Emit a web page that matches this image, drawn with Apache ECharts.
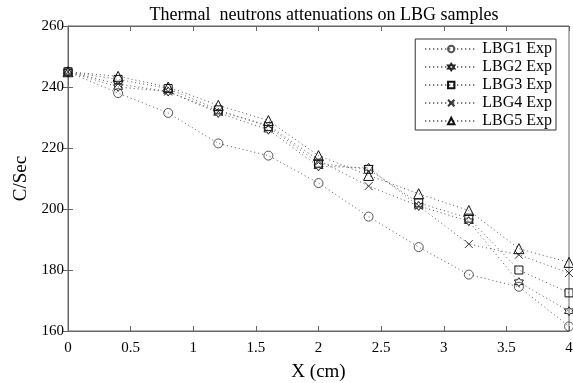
<!DOCTYPE html>
<html><head><meta charset="utf-8">
<script src="https://cdn.jsdelivr.net/npm/echarts@6/dist/echarts.min.js"></script>
<style>html,body{margin:0;padding:0;background:#fff}#c{width:573px;height:383px}</style>
</head><body><div id="c"></div>
<script>
var xValues = [0, 0.4, 0.8, 1.2, 1.6, 2.0, 2.4, 2.8, 3.2, 3.6, 4.0];
var lbg1 = [245, 238, 231.5, 221.5, 217.5, 208.5, 197.5, 187.5, 178.5, 174.5, 161.5];
var lbg2 = [245, 240, 238.5, 231.5, 226, 214, 213.5, 201, 196, 176, 166.5];
var lbg3 = [245, 242.5, 239.5, 232.5, 227, 215, 213, 202, 197, 180, 172.5];
var lbg4 = [245, 241, 238.5, 232, 227.5, 216, 207.5, 201, 188.5, 185, 179];
var lbg5 = [245, 243.5, 240, 234, 229, 217.5, 211, 205, 199.5, 187, 182.5];
var seriesNames = ['LBG1 Exp', 'LBG2 Exp', 'LBG3 Exp', 'LBG4 Exp', 'LBG5 Exp'];
var xTicks = [0, 0.5, 1, 1.5, 2, 2.5, 3, 3.5, 4];
var yTicks = [160, 180, 200, 220, 240, 260];

var font = 'Liberation Serif';
var hexagram = 'path://M5,0L6.4,2.5L9.3,2.5L7.9,5L9.3,7.5L6.4,7.5L5,10L3.6,7.5L0.7,7.5L2.1,5L0.7,2.5L3.6,2.5Z';
var xmark = 'path://M0,0L10,10M10,0L0,10';
var symbols = ['circle', hexagram, 'rect', xmark, 'triangle'];
var sizes = [9, 9, 8, 8, 10];
var markerColors = ['#555', '#222', '#111', '#333', '#111'];
var allData = [lbg1, lbg2, lbg3, lbg4, lbg5];

function pairs(arr){ return xValues.map(function(x,i){ return [x, arr[i]]; }); }

var series = allData.map(function(d, k){
  return {
    name: seriesNames[k], type: 'line', data: pairs(d),
    symbol: symbols[k], symbolSize: sizes[k], showAllSymbol: true,
    lineStyle: {type: [1, 3], width: 1, color: '#555'},
    itemStyle: {color: 'rgba(255,255,255,0)', borderColor: markerColors[k], borderWidth: 1},
    emphasis: {disabled: true}, animation: false, z: 3
  };
});

var chart = echarts.init(document.getElementById('c'));
chart.setOption({
  animation: false,
  title: {text: 'Thermal  neutrons attenuations on LBG samples', left: 319, top: 1, textAlign: 'center',
    textStyle: {fontFamily: font, fontSize: 18, fontWeight: 'normal', color: '#000'}},
  grid: {left: 68, right: 4, top: 26, bottom: 52, show: true, borderColor: '#666', borderWidth: 1,
    containLabel: false, outerBoundsMode: 'none'},
  legend: {
    data: seriesNames, orient: 'vertical', right: 17, top: 39,
    backgroundColor: '#fff', borderColor: '#333', borderWidth: 1,
    padding: [2, 4, 1, 9], itemGap: 2, itemWidth: 52, itemHeight: 8,
    textStyle: {fontFamily: font, fontSize: 16, color: '#000', lineHeight: 14, height: 14}
  },
  xAxis: [{
    type: 'value', min: 0, max: 4, interval: 0.5,
    name: 'X (cm)', nameLocation: 'middle', nameGap: 32,
    nameTextStyle: {fontFamily: font, fontSize: 19, color: '#000'},
    axisLine: {lineStyle: {color: '#666'}},
    axisTick: {inside: true, length: 5, lineStyle: {color: '#666'}},
    axisLabel: {fontFamily: font, fontSize: 15, color: '#000', margin: 10,
      formatter: function(v){ return String(v); }},
    splitLine: {show: false}
  }, {
    type: 'value', min: 0, max: 4, interval: 0.5, position: 'top',
    axisLine: {lineStyle: {color: '#666'}},
    axisTick: {inside: true, length: 5, lineStyle: {color: '#666'}},
    axisLabel: {show: false}, splitLine: {show: false}
  }],
  yAxis: [{
    type: 'value', min: 160, max: 260, interval: 20,
    name: 'C/Sec', nameLocation: 'middle', nameGap: 30, nameRotate: 90,
    nameTextStyle: {fontFamily: font, fontSize: 19, color: '#000'},
    axisLine: {show: true, lineStyle: {color: '#666'}},
    axisTick: {show: true, inside: true, length: 5, lineStyle: {color: '#666'}},
    axisLabel: {fontFamily: font, fontSize: 15, color: '#000', margin: 4},
    splitLine: {show: false}
  }, {
    type: 'value', min: 160, max: 260, interval: 20, position: 'right',
    axisLine: {show: true, lineStyle: {color: '#666'}},
    axisTick: {show: true, inside: true, length: 5, lineStyle: {color: '#666'}},
    axisLabel: {show: false}, splitLine: {show: false}
  }],
  series: series
});
</script></body></html>
